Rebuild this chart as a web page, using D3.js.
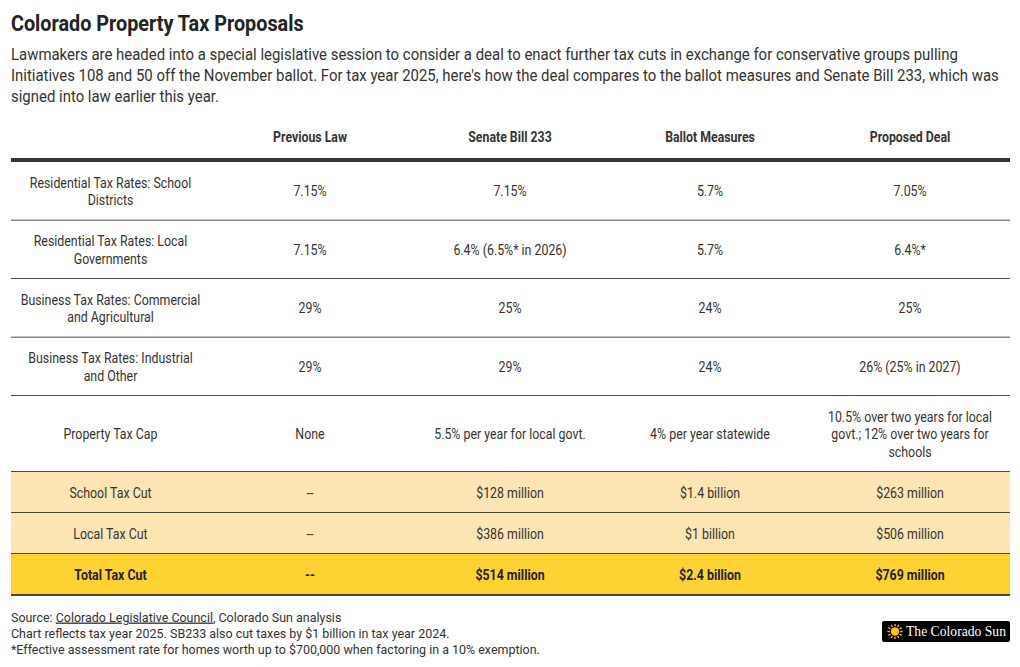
<!DOCTYPE html>
<html><head><meta charset="utf-8">
<script src="https://cdn.jsdelivr.net/npm/d3@7"></script>
<style>body{margin:0;background:#fff}svg{display:block}</style>
</head><body><script>
// ---------- data ----------
const title = "Colorado Property Tax Proposals";
const subtitleLines = [
  "Lawmakers are headed into a special legislative session to consider a deal to enact further tax cuts in exchange for conservative groups pulling",
  "Initiatives 108 and 50 off the November ballot. For tax year 2025, here's how the deal compares to the ballot measures and Senate Bill 233, which was",
  "signed into law earlier this year."
];
const columns = ["Previous Law", "Senate Bill 233", "Ballot Measures", "Proposed Deal"];
const rowLabels = [
  "Residential Tax Rates: School\nDistricts",
  "Residential Tax Rates: Local\nGovernments",
  "Business Tax Rates: Commercial\nand Agricultural",
  "Business Tax Rates: Industrial\nand Other",
  "Property Tax Cap",
  "School Tax Cut",
  "Local Tax Cut",
  "Total Tax Cut"
];
const previousLaw = ["7.15%", "7.15%", "29%", "29%", "None", "--", "--", "--"];
const senateBill233 = ["7.15%", "6.4% (6.5%* in 2026)", "25%", "29%", "5.5% per year for local govt.", "$128 million", "$386 million", "$514 million"];
const ballotMeasures = ["5.7%", "5.7%", "24%", "24%", "4% per year statewide", "$1.4 billion", "$1 billion", "$2.4 billion"];
const proposedDeal = ["7.05%", "6.4%*", "25%", "26% (25% in 2027)", "10.5% over two years for local\ngovt.; 12% over two years for\nschools", "$263 million", "$506 million", "$769 million"];
const rowKinds = ["plain", "plain", "plain", "plain", "plain", "cut", "cut", "total"];
const sourceLink = "Colorado Legislative Council";
const footerLines = [
  "Chart reflects tax year 2025. SB233 also cut taxes by $1 billion in tax year 2024.",
  "*Effective assessment rate for homes worth up to $700,000 when factoring in a 10% exemption."
];
const logoText = "The Colorado Sun";

// ---------- layout ----------
const W = 1020, H = 667;
const FONT = "Roboto, 'Noto Sans', sans-serif";
const ink = "#333";
const left = 11, right = 1010, labelRight = 210;
const lineH = 17.5, rowPad = 23.5;
const tableTop = 162;
const fills = {plain: "#fff", cut: "#fde6b4", total: "#fcd332"};

const svg = d3.select("body").append("svg").attr("width", W).attr("height", H);
svg.append("rect").attr("width", W).attr("height", H).attr("fill", "#fff");

function txt(g, x, y, s, size, weight, anchor, color, sx) {
  return g.append("text")
    .attr("transform", `translate(${x},${y}) scale(${sx},1)`)
    .attr("text-anchor", anchor || "start")
    .attr("font-family", FONT)
    .attr("font-size", size)
    .attr("font-weight", weight || 400)
    .attr("fill", color || ink)
    .text(s);
}

// title & subtitle
txt(svg, left, 31, title, 22.5, 700, "start", "#222", 0.88);
subtitleLines.forEach((l, i) => txt(svg, left, 59.5 + i * 21, l, 16.2, 400, "start", ink, 0.922));

// columns
const x = d3.scaleBand().domain(columns).range([labelRight, right]);
const labelCenter = (left + labelRight) / 2;

// header
const header = svg.append("g");
columns.forEach(c => txt(header, x(c) + x.bandwidth() / 2, 142, c, 14, 700, "middle", ink, 0.88));
header.append("rect").attr("x", left).attr("y", 158).attr("width", right - left).attr("height", 4.5).attr("fill", "#333");

// rows
const rows = rowLabels.map((label, i) => {
  const cells = [label, previousLaw[i], senateBill233[i], ballotMeasures[i], proposedDeal[i]].map(s => s.split("\n"));
  const n = d3.max(cells, c => c.length);
  return {cells, n, kind: rowKinds[i]};
});
let yCursor = tableTop;
rows.forEach(r => { r.y0 = yCursor; r.h = r.n * lineH + rowPad; yCursor += r.h; });

const rowG = svg.append("g").selectAll("g").data(rows).join("g");
rowG.append("rect")
  .attr("x", left).attr("y", d => d.y0).attr("width", right - left).attr("height", d => d.h)
  .attr("fill", d => fills[d.kind]);
rowG.append("line")
  .attr("x1", left).attr("x2", right)
  .attr("y1", d => d.y0 + d.h).attr("y2", d => d.y0 + d.h)
  .attr("stroke", "#111").attr("stroke-width", 1.3);

rowG.each(function (d) {
  const g = d3.select(this);
  const cy = d.y0 + d.h / 2;
  const weight = d.kind === "total" ? 700 : 400;
  d.cells.forEach((lines, ci) => {
    const cx = ci === 0 ? labelCenter : x(columns[ci - 1]) + x.bandwidth() / 2;
    const startY = cy - (lines.length - 1) * lineH / 2 + 5;
    lines.forEach((l, li) => txt(g, cx, startY + li * lineH, l, 14, weight, "middle", d.kind === "total" ? "#222" : ink, 0.885));
  });
});

// footer
const FSX = 0.945;
const foot = svg.append("g");
const src = foot.append("text")
  .attr("transform", `translate(${left},621.5) scale(${FSX},1)`)
  .attr("font-family", FONT).attr("font-size", 13.2).attr("fill", ink);
src.append("tspan").text("Source: ");
src.append("tspan").attr("text-decoration", "underline").text(sourceLink);
src.append("tspan").text(", Colorado Sun analysis");
footerLines.forEach((l, i) => txt(foot, left, 637.5 + i * 16, l, 13.2, 400, "start", ink, FSX));

// logo
const logo = svg.append("g").attr("transform", "translate(882,621)");
logo.append("rect").attr("width", 128).attr("height", 21).attr("rx", 2).attr("fill", "#000");
const sun = logo.append("g").attr("transform", "translate(13,10.5)");
sun.append("circle").attr("r", 4.2).attr("fill", "#f7c21a");
d3.range(12).forEach(k => {
  const a = k * Math.PI / 6;
  sun.append("line")
    .attr("x1", Math.cos(a) * 5.2).attr("y1", Math.sin(a) * 5.2)
    .attr("x2", Math.cos(a) * 7.6).attr("y2", Math.sin(a) * 7.6)
    .attr("stroke", "#f7c21a").attr("stroke-width", 1.4);
});
logo.append("text").attr("x", 24).attr("y", 15)
  .attr("font-family", "'Liberation Serif', 'DejaVu Serif', serif")
  .attr("font-size", 14).attr("font-weight", 400).attr("fill", "#fff")
  .attr("textLength", 100).attr("lengthAdjust", "spacingAndGlyphs")
  .text(logoText);
</script></body></html>
